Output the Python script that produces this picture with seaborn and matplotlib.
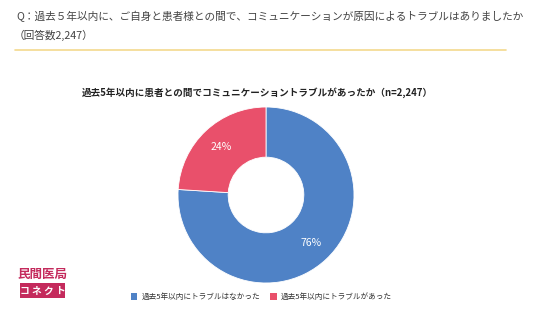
import matplotlib
matplotlib.use("Agg")
import matplotlib.pyplot as plt
import seaborn as sns
from matplotlib.patches import Patch, Rectangle
from matplotlib.lines import Line2D

# Data
categories = ["過去5年以内にトラブルはなかった", "過去5年以内にトラブルがあった"]
values = [76, 24]
colors = ["#4F82C6", "#E9506B"]

header_q = "Q：過去５年以内に、ご自身と患者様との間で、コミュニケーションが原因によるトラブルはありましたか"
header_n = "（回答数2,247）"
chart_title = "過去5年以内に患者との間でコミュニケーショントラブルがあったか（n=2,247）"

sns.set_theme(style="white")
plt.rcParams['font.family'] = ['Noto Sans CJK JP', 'DejaVu Sans']

W, H = 536, 312
fig = plt.figure(figsize=(W / 100, H / 100), dpi=100)
fig.patch.set_facecolor("white")

def fx(x): return x / W
def fy(y): return 1 - y / H

# Header
fig.text(fx(16), fy(17), header_q, fontsize=7.7, color="#444444", va="center", ha="left")
fig.text(fx(14), fy(35), header_n, fontsize=7.7, color="#444444", va="center", ha="left")
fig.add_artist(Line2D([fx(15), fx(506)], [fy(50), fy(50)], color="#F3D98E", lw=1.2))

# Chart title
fig.text(fx(257), fy(93), chart_title, fontsize=6.9, fontweight="bold", color="#222222",
         va="center", ha="center")

# Donut
cx, cy, r = 266, 195, 88
ax = fig.add_axes([fx(cx - r), fy(cy + r), 2 * r / W, 2 * r / H])
wedges, texts, autotexts = ax.pie(values, colors=colors, startangle=90, counterclock=False,
                                  autopct=lambda p: f"{p:.0f}%", pctdistance=0.75,
                                  wedgeprops=dict(width=0.57, edgecolor="white", linewidth=0.6),
                                  textprops=dict(color="white", fontsize=7.5))
ax.set_xlim(-1, 1)
ax.set_ylim(-1, 1)
ax.set_aspect("equal")
ax.axis("off")

# Legend
handles = [Patch(facecolor=c, edgecolor="none") for c in colors]
fig.legend(handles, categories, loc="center", bbox_to_anchor=(fx(261), fy(297)), ncol=2,
           frameon=False, fontsize=5.5, handlelength=0.9, handleheight=0.9,
           handletextpad=0.5, columnspacing=1.3, labelcolor="#333333")

# Logo
logo_c = "#C42A5C"
fig.text(fx(42), fy(274), "民間医局", fontsize=9, color=logo_c, ha="center", va="center",
         fontweight="bold")
fig.add_artist(Rectangle((fx(20), fy(298)), fx(45), 15 / H, facecolor=logo_c, edgecolor="none"))
fig.text(fx(42.5), fy(290.5), "コ ネ ク ト", fontsize=7, color="white", ha="center", va="center",
         fontweight="bold")

fig.savefig("out.png", dpi=100, facecolor="white")
